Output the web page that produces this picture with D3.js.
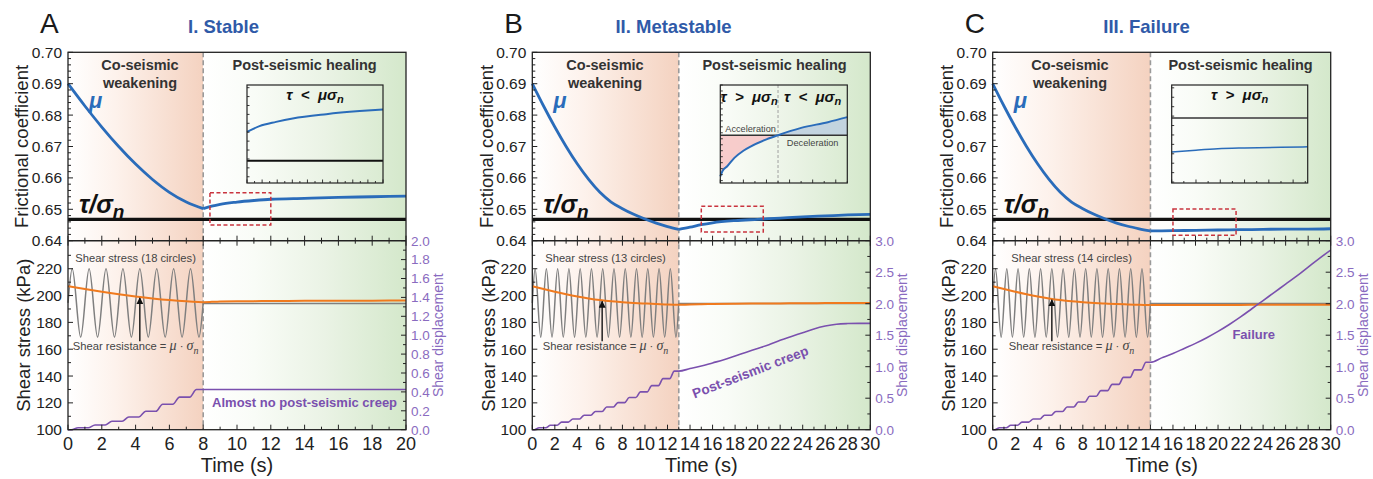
<!DOCTYPE html>
<html>
<head>
<meta charset="utf-8">
<script src="https://cdn.jsdelivr.net/npm/d3@7"></script>
<style>
  body { margin: 0; background: #fff; }
  svg { display: block; }
  text { font-family: "Liberation Sans", Arial, sans-serif; }
</style>
</head>
<body>
<svg id="chart" width="1373" height="479"></svg>
<script>
// ---------------- data ----------------
const panelLetters = ["A", "B", "C"];
const panelTitles = ["I. Stable", "II. Metastable", "III. Failure"];
const timeMax = [20, 30, 30];              // s
const coseismicEnd = [8, 13, 14];          // end of shaking (s)
const dispMax = [2, 3, 3];                 // right axis top
const dispStep = [0.2, 0.5, 0.5];
const sigmaN = 300;                        // normal stress, kPa
const tauStatic = 194.1;                   // post-seismic shear stress, kPa
const tauOverSigma = 0.6468;               // τ/σn
const stressLabels = ["Shear stress (18 circles)", "Shear stress (13 circles)", "Shear stress (14 circles)"];
const creepLabels = ["Almost no post-seismic creep", "Post-seismic creep", "Failure"];
const arrowTime = [4.25, 6.2, 5.25];       // s
const arrowBase = 166;                     // kPa

// friction coefficient during shaking
const muPreTimeA = [0, 1, 2, 3, 4, 5, 6, 7, 8];
const muPreA = [0.6900, 0.6829, 0.6762, 0.6700, 0.6644, 0.6595, 0.6554, 0.6523, 0.6502];
const muPreTimeB = [0, 1, 2, 3, 4, 5, 6, 7, 8, 9, 10, 11, 12, 13];
const muPreB = [0.6900, 0.6829, 0.6762, 0.6700, 0.6644, 0.6595, 0.6554, 0.6523, 0.6502, 0.6484, 0.6469, 0.6456, 0.6445, 0.6436];
const muPreTimeC = [0, 1, 2, 3, 4, 5, 6, 7, 8, 9, 10, 11, 12, 13, 14];
const muPreC = [0.6900, 0.6829, 0.6762, 0.6700, 0.6644, 0.6595, 0.6554, 0.6523, 0.6502, 0.6484, 0.6469, 0.6456, 0.6446, 0.6438, 0.6431];

// friction coefficient after shaking (healing)
const muPostTimeA = [8, 8.5, 9, 10, 11, 12, 14, 16, 18, 20];
const muPostA = [0.6502, 0.6510, 0.6516, 0.6523, 0.6528, 0.6532, 0.6535, 0.6538, 0.6540, 0.6542];
const muPostTimeB = [13, 14, 15, 16, 18, 20, 22, 24, 26, 28, 30];
const muPostB = [0.6436, 0.6443, 0.6451, 0.6457, 0.6464, 0.6468, 0.6472, 0.6476, 0.6479, 0.6482, 0.6484];
const muPostTimeC = [14, 16, 18, 20, 22, 24, 26, 28, 30];
const muPostC = [0.6431, 0.6432, 0.6433, 0.6434, 0.6435, 0.6436, 0.6437, 0.6437, 0.6438];

// cyclic shear stress: turning points (kPa)
const stressTimeA = [0, 0.25, 0.75, 1.25, 1.75, 2.25, 2.75, 3.25, 3.75, 4.25, 4.75, 5.25, 5.75, 6.25, 6.75, 7.25, 7.75, 8];
const stressA = [194.5, 220, 169, 220, 169, 220, 169, 220, 169, 220, 169, 220, 169, 220, 169, 220, 169, 194.5];
const stressTimeB = [0, 0.25, 0.75, 1.25, 1.75, 2.25, 2.75, 3.25, 3.75, 4.25, 4.75, 5.25, 5.75, 6.25, 6.75, 7.25, 7.75, 8.25, 8.75, 9.25, 9.75, 10.25, 10.75, 11.25, 11.75, 12.25, 12.75, 13];
const stressB = [194.5, 220, 169, 220, 169, 220, 169, 220, 169, 220, 169, 220, 169, 220, 169, 220, 169, 220, 169, 220, 169, 220, 169, 220, 169, 220, 169, 194.5];
const stressTimeC = [0, 0.25, 0.75, 1.25, 1.75, 2.25, 2.75, 3.25, 3.75, 4.25, 4.75, 5.25, 5.75, 6.25, 6.75, 7.25, 7.75, 8.25, 8.75, 9.25, 9.75, 10.25, 10.75, 11.25, 11.75, 12.25, 12.75, 13.25, 13.75, 14];
const stressC = [194.5, 220, 169, 220, 169, 220, 169, 220, 169, 220, 169, 220, 169, 220, 169, 220, 169, 220, 169, 220, 169, 220, 169, 220, 169, 220, 169, 220, 169, 194.5];

// shear displacement
const dispTimeA = [0, 0.2, 0.6, 1.2, 1.6, 2.2, 2.6, 3.2, 3.6, 4.2, 4.6, 5.2, 5.6, 6.2, 6.6, 7.2, 7.6, 8, 20];
const dispA = [0, 0, 0.02, 0.02, 0.05, 0.05, 0.09, 0.09, 0.135, 0.135, 0.195, 0.195, 0.27, 0.27, 0.345, 0.345, 0.425, 0.425, 0.425];
const dispTimeB = [0, 0.2, 0.6, 1.2, 1.6, 2.2, 2.6, 3.2, 3.6, 4.2, 4.6, 5.2, 5.6, 6.2, 6.6, 7.2, 7.6, 8.2, 8.6, 9.2, 9.6, 10.2, 10.6, 11.2, 11.6, 12.2, 12.6, 13,
                   14, 15, 16, 17, 18, 19, 20, 21, 22, 23, 24, 25, 26, 27, 28, 29, 30];
const dispB = [0, 0, 0.03, 0.03, 0.07, 0.07, 0.12, 0.12, 0.17, 0.17, 0.23, 0.23, 0.29, 0.29, 0.36, 0.36, 0.43, 0.43, 0.51, 0.51, 0.60, 0.60, 0.70, 0.70, 0.81, 0.81, 0.93, 0.93,
               0.97, 1.01, 1.06, 1.11, 1.17, 1.23, 1.29, 1.35, 1.42, 1.48, 1.54, 1.60, 1.645, 1.675, 1.685, 1.688, 1.688];
const dispTimeC = [0, 0.2, 0.6, 1.2, 1.6, 2.2, 2.6, 3.2, 3.6, 4.2, 4.6, 5.2, 5.6, 6.2, 6.6, 7.2, 7.6, 8.2, 8.6, 9.2, 9.6, 10.2, 10.6, 11.2, 11.6, 12.2, 12.6, 13.2, 13.6, 14,
                   15, 16, 17, 18, 19, 20, 21, 22, 23, 24, 25, 26, 27, 28, 29, 30];
const dispC = [0, 0, 0.03, 0.03, 0.07, 0.07, 0.12, 0.12, 0.17, 0.17, 0.23, 0.23, 0.29, 0.29, 0.36, 0.36, 0.44, 0.44, 0.53, 0.53, 0.62, 0.62, 0.72, 0.72, 0.83, 0.83, 0.95, 0.95, 1.07, 1.07,
               1.14, 1.21, 1.29, 1.37, 1.46, 1.56, 1.67, 1.79, 1.92, 2.05, 2.18, 2.31, 2.44, 2.58, 2.72, 2.85];

// zoom windows (red boxes) and the close-up insets
const zoomTime = [[8.4, 12], [15, 20.5], [16, 21.6]];
const zoomMu = [[0.6450, 0.6553], [0.6428, 0.6510], [0.6417, 0.6501]];
const insetMuDomain = [[0.6443, 0.6553], [0.6428, 0.6510], [0.6399, 0.6503]];
const insetTimeA = [8.4, 8.73, 9.17, 9.61, 10.5, 11.38, 12];
const insetMuA = [0.65004, 0.65068, 0.65116, 0.65155, 0.65203, 0.65237, 0.65256];
const insetTimeB = [15, 15.1, 15.3, 15.61, 16.0, 16.33, 17.0, 17.5, 18.5, 19.66, 20.5];
const insetMuB = [0.64336, 0.64383, 0.6442, 0.6449, 0.6455, 0.64587, 0.64645, 0.6468, 0.64741, 0.64789, 0.64831];
const insetTimeC = [16, 17, 17.9, 19, 20.5, 21.6];
const insetMuC = [0.64318, 0.64338, 0.64353, 0.64362, 0.64370, 0.64374];
const insetCrossTimeB = 17.5;

// ---------------- layout ----------------
const svg = d3.select("#chart");
const defs = svg.append("defs");
const plotLeft = [68, 532.3, 992.7];
const W = 338, TOP = 52.3, MID = 240.7, BOT = 429.7;
const insetWidth = [136, 127, 136];
const INSET_TOP = 85, INSET_H = 98;
const coLabelX = [140, 605, 1070];

const BLUE = "#2A6CBA", ORANGE = "#F07A1E", GREY = "#7F7F7F", PURPLE = "#7A50AE", PURPLE_TXT = "#8A6BC0", INK = "#222";
const MATH = "'Liberation Serif', 'DejaVu Serif', serif";

defs.append("marker").attr("id", "arrowHead").attr("viewBox", "0 0 10 10")
  .attr("refX", 9).attr("refY", 5).attr("markerWidth", 7).attr("markerHeight", 7)
  .attr("markerUnits", "userSpaceOnUse").attr("orient", "auto")
  .append("path").attr("d", "M0,0 L10,5 L0,10 z").attr("fill", "#111");

function gradient(id, x1, x2, stops) {
  const g = defs.append("linearGradient").attr("id", id)
    .attr("gradientUnits", "userSpaceOnUse").attr("x1", x1).attr("x2", x2).attr("y1", 0).attr("y2", 0);
  stops.forEach(([o, c]) => g.append("stop").attr("offset", o).attr("stop-color", c));
}

function rich(sel, parts) {
  parts.forEach(p => {
    const ts = sel.append("tspan").text(p.t);
    if (p.font) ts.attr("font-family", p.font);
    if (p.italic) ts.attr("font-style", "italic");
    if (p.bold) ts.attr("font-weight", "bold");
    if (p.size) ts.attr("font-size", p.size);
    if (p.dy) ts.attr("dy", p.dy);
  });
  return sel;
}

const muPreTime = [muPreTimeA, muPreTimeB, muPreTimeC], muPre = [muPreA, muPreB, muPreC];
const muPostTime = [muPostTimeA, muPostTimeB, muPostTimeC], muPost = [muPostA, muPostB, muPostC];
const stressTime = [stressTimeA, stressTimeB, stressTimeC], stress = [stressA, stressB, stressC];
const dispTime = [dispTimeA, dispTimeB, dispTimeC], disp = [dispA, dispB, dispC];
const insetTime = [insetTimeA, insetTimeB, insetTimeC], insetMu = [insetMuA, insetMuB, insetMuC];
const insetTitles = [
  [[{t: "τ  <  μσ"}, {t: "n", size: 11, dy: "0.3em"}]],
  [[{t: "τ  >  μσ"}, {t: "n", size: 11, dy: "0.3em"}], [{t: "τ  <  μσ"}, {t: "n", size: 11, dy: "0.3em"}]],
  [[{t: "τ  >  μσ"}, {t: "n", size: 11, dy: "0.3em"}]]
];

const zip = (a, b) => a.map((v, i) => [v, b[i]]);

panelLetters.forEach((letter, p) => {
  const x0 = plotLeft[p], x1 = x0 + W;
  const x = d3.scaleLinear([0, timeMax[p]], [x0, x1]);
  const yMu = d3.scaleLinear([0.64, 0.70], [MID, TOP]);
  const yS = d3.scaleLinear([100, 240], [BOT, 241.9]);
  const yD = d3.scaleLinear([0, dispMax[p]], [BOT, MID]);
  const xq = x(coseismicEnd[p]);
  const g = svg.append("g");

  // stage backgrounds
  gradient("co" + p, x0, xq, [[0, "#FFFFFF"], [0.35, "#FDF2EC"], [1, "#F4D2C0"]]);
  gradient("post" + p, xq, x1, [[0, "#FFFFFF"], [0.25, "#F9FCF7"], [0.6, "#EAF3E5"], [1, "#D4E8CB"]]);
  g.append("rect").attr("x", x0).attr("y", TOP).attr("width", xq - x0).attr("height", BOT - TOP).attr("fill", `url(#co${p})`);
  g.append("rect").attr("x", xq).attr("y", TOP).attr("width", x1 - xq).attr("height", BOT - TOP).attr("fill", `url(#post${p})`);

  // stage boundary
  g.append("line").attr("x1", xq).attr("x2", xq).attr("y1", TOP).attr("y2", BOT)
    .attr("stroke", "#9A9A9A").attr("stroke-width", 1.6).attr("stroke-dasharray", "5,3");

  // ---- top panel: friction ----
  g.append("line").attr("x1", x0).attr("x2", x1).attr("y1", yMu(tauOverSigma)).attr("y2", yMu(tauOverSigma))
    .attr("stroke", "#111").attr("stroke-width", 3.2);
  const muLine = d3.line().x(d => x(d[0])).y(d => yMu(d[1])).curve(d3.curveMonotoneX);
  g.append("path").attr("d", muLine(zip(muPreTime[p], muPre[p]))).attr("fill", "none").attr("stroke", BLUE).attr("stroke-width", 2.8);
  g.append("path").attr("d", muLine(zip(muPostTime[p], muPost[p]))).attr("fill", "none").attr("stroke", BLUE).attr("stroke-width", 2.8);

  // red zoom window
  g.append("rect").attr("x", x(zoomTime[p][0])).attr("y", yMu(zoomMu[p][1]))
    .attr("width", x(zoomTime[p][1]) - x(zoomTime[p][0])).attr("height", yMu(zoomMu[p][0]) - yMu(zoomMu[p][1]))
    .attr("fill", "none").attr("stroke", "#C9343F").attr("stroke-width", 1.5).attr("stroke-dasharray", "4,2.5");

  // ---- bottom panel: stresses and displacement ----
  const sLine = d3.line().x(d => x(d[0])).y(d => yS(d[1])).curve(d3.curveMonotoneX);
  g.append("path").attr("d", sLine(zip(stressTime[p], stress[p]))).attr("fill", "none").attr("stroke", GREY).attr("stroke-width", 1.5);
  g.append("line").attr("x1", xq).attr("x2", x1).attr("y1", yS(tauStatic)).attr("y2", yS(tauStatic))
    .attr("stroke", GREY).attr("stroke-width", 1.6);
  const resPre = muPre[p].map(m => m * sigmaN), resPost = muPost[p].map(m => m * sigmaN);
  g.append("path").attr("d", sLine(zip(muPreTime[p], resPre))).attr("fill", "none").attr("stroke", ORANGE).attr("stroke-width", 2);
  g.append("path").attr("d", sLine(zip(muPostTime[p], resPost))).attr("fill", "none").attr("stroke", ORANGE).attr("stroke-width", 2);

  const dLine = d3.line().x(d => x(d[0])).y(d => yD(d[1])).curve(d3.curveMonotoneX);
  g.append("path").attr("d", dLine(zip(dispTime[p], disp[p]))).attr("fill", "none").attr("stroke", PURPLE).attr("stroke-width", 1.6);

  // arrow to shear resistance
  const resAt = d3.scaleLinear(muPreTime[p], resPre);
  const ta = arrowTime[p];
  g.append("line").attr("x1", x(ta)).attr("x2", x(ta)).attr("y1", yS(arrowBase)).attr("y2", yS(resAt(ta)) + 1)
    .attr("stroke", "#111").attr("stroke-width", 1.4).attr("marker-end", "url(#arrowHead)");

  // ---- frame ----
  g.append("rect").attr("x", x0).attr("y", TOP).attr("width", W).attr("height", BOT - TOP)
    .attr("fill", "none").attr("stroke", INK).attr("stroke-width", 1.3);
  g.append("line").attr("x1", x0).attr("x2", x1).attr("y1", MID).attr("y2", MID).attr("stroke", INK).attr("stroke-width", 1.5);

  // x ticks (inward) on panel boundary and bottom
  d3.range(0, timeMax[p] + 0.001, 1).forEach(t => {
    const major = t % 2 === 0;
    const L = major ? 5 : 3;
    g.append("line").attr("x1", x(t)).attr("x2", x(t)).attr("y1", BOT).attr("y2", BOT - L).attr("stroke", INK).attr("stroke-width", 1);
    g.append("line").attr("x1", x(t)).attr("x2", x(t)).attr("y1", MID - L).attr("y2", MID + L).attr("stroke", INK).attr("stroke-width", 1);
    if (major) {
      g.append("text").attr("x", x(t)).attr("y", BOT + 20).attr("text-anchor", "middle")
        .attr("font-size", 18).attr("fill", INK).text(t);
    }
  });

  // left axis: friction
  d3.range(0.64, 0.7001, 0.002).forEach((v, i) => {
    const major = i % 5 === 0;
    g.append("line").attr("x1", x0).attr("x2", x0 + (major ? 5 : 3)).attr("y1", yMu(v)).attr("y2", yMu(v)).attr("stroke", INK).attr("stroke-width", 1);
    if (major) g.append("text").attr("x", x0 - 6).attr("y", yMu(v)).attr("dy", "0.36em").attr("text-anchor", "end")
      .attr("font-size", 15.5).attr("fill", INK).text(v.toFixed(2));
  });
  // left axis: shear stress
  d3.range(100, 231, 10).forEach(v => {
    const major = v % 20 === 0;
    g.append("line").attr("x1", x0).attr("x2", x0 + (major ? 5 : 3)).attr("y1", yS(v)).attr("y2", yS(v)).attr("stroke", INK).attr("stroke-width", 1);
    if (major) g.append("text").attr("x", x0 - 6).attr("y", yS(v)).attr("dy", "0.36em").attr("text-anchor", "end")
      .attr("font-size", 15.5).attr("fill", INK).text(v);
  });
  // right axis: displacement
  const nD = Math.round(dispMax[p] / (dispStep[p] / 2));
  d3.range(0, nD + 1).forEach(i => {
    const v = i * dispStep[p] / 2;
    const major = i % 2 === 0;
    g.append("line").attr("x1", x1).attr("x2", x1 - (major ? 5 : 3)).attr("y1", yD(v)).attr("y2", yD(v)).attr("stroke", INK).attr("stroke-width", 1);
    if (major) g.append("text").attr("x", x1 + 5).attr("y", yD(v)).attr("dy", "0.36em")
      .attr("font-size", 13.5).attr("fill", PURPLE_TXT).text(v.toFixed(1));
  });

  // axis titles
  g.append("text").attr("transform", `translate(${x0 - 46},${(TOP + MID) / 2}) rotate(-90)`).attr("text-anchor", "middle")
    .attr("dy", "0.35em").attr("font-size", 18.5).attr("fill", INK).text("Frictional coefficient");
  g.append("text").attr("transform", `translate(${x0 - 44},${(MID + BOT) / 2}) rotate(-90)`).attr("text-anchor", "middle")
    .attr("dy", "0.35em").attr("font-size", 18.5).attr("fill", INK).text("Shear stress (kPa)");
  g.append("text").attr("transform", `translate(${x1 + 32},${(MID + BOT) / 2}) rotate(-90)`).attr("text-anchor", "middle")
    .attr("dy", "0.35em").attr("font-size", 14).attr("fill", PURPLE_TXT).text("Shear displacement");
  g.append("text").attr("x", (x0 + x1) / 2).attr("y", 472).attr("text-anchor", "middle")
    .attr("font-size", 20).attr("fill", INK).text("Time (s)");

  // panel letter and title
  g.append("text").attr("x", x0 - 28).attr("y", 33).attr("font-size", 28).attr("fill", "#1a1a1a").text(letter);
  g.append("text").attr("x", [223.5, 673.5, 1146.5][p]).attr("y", 33).attr("text-anchor", "middle")
    .attr("font-size", 18.5).attr("font-weight", "bold").attr("fill", "#2F5AA8").text(panelTitles[p]);

  // stage labels
  const coMid = (x0 + xq) / 2, postMid = (xq + x1) / 2;
  g.append("text").attr("x", coLabelX[p]).attr("y", 70).attr("text-anchor", "middle").attr("font-size", 14.5)
    .attr("font-weight", "bold").attr("fill", "#333").text("Co-seismic");
  g.append("text").attr("x", coLabelX[p]).attr("y", 88).attr("text-anchor", "middle").attr("font-size", 14.5)
    .attr("font-weight", "bold").attr("fill", "#333").text("weakening");
  g.append("text").attr("x", postMid).attr("y", 70).attr("text-anchor", "middle").attr("font-size", 14.5)
    .attr("font-weight", "bold").attr("fill", "#333").text("Post-seismic healing");

  // curve labels
  g.append("text").attr("x", x0 + 21).attr("y", 108).attr("font-family", MATH).attr("font-style", "italic")
    .attr("font-weight", "bold").attr("font-size", 22).attr("fill", BLUE).text("μ");
  rich(g.append("text").attr("x", x0 + 11).attr("y", 213).attr("font-family", MATH).attr("font-style", "italic")
    .attr("font-weight", "bold").attr("font-size", 25).attr("fill", "#111"),
    [{t: "τ/σ"}, {t: "n", size: 19, dy: "0.25em"}]);

  g.append("text").attr("x", coMid).attr("y", 262).attr("text-anchor", "middle").attr("font-size", 11.2)
    .attr("fill", "#444").text(stressLabels[p]);
  rich(g.append("text").attr("x", coMid).attr("y", 350).attr("text-anchor", "middle").attr("font-size", 11.2).attr("fill", "#444"),
    [{t: "Shear resistance = "}, {t: "μ", font: MATH, italic: true, size: 14}, {t: " · "},
     {t: "σ", font: MATH, italic: true, size: 14}, {t: "n", font: MATH, italic: true, size: 10, dy: "0.35em"}]);

  // creep annotation
  const cl = g.append("text").attr("font-size", 13.5).attr("font-weight", "bold").attr("fill", PURPLE)
    .attr("text-anchor", "middle").text(creepLabels[p]);
  if (p === 0) cl.attr("x", postMid).attr("y", 407).attr("font-size", 13);
  if (p === 1) cl.attr("transform", `translate(${x0 + 218},${372}) rotate(-21)`).attr("dy", "0.35em");
  if (p === 2) cl.attr("x", x0 + 261).attr("y", 339).attr("font-size", 13);

  // ---- inset close-up ----
  const iw = insetWidth[p];
  const ix1 = x1 - 23, ix0 = ix1 - iw, iy0 = INSET_TOP, iy1 = INSET_TOP + INSET_H;
  const xi = d3.scaleLinear(zoomTime[p], [ix0, ix1]);
  const yi = d3.scaleLinear(insetMuDomain[p], [iy1, iy0]);
  const ig = g.append("g");
  const ipts = zip(insetTime[p], insetMu[p]);
  if (p === 1) {
    const tc = insetCrossTimeB;
    const area = d3.area().x(d => xi(d[0])).y0(yi(tauOverSigma)).y1(d => yi(d[1])).curve(d3.curveMonotoneX);
    ig.append("path").attr("d", area(ipts.filter(d => d[0] <= tc))).attr("fill", "#F6C6C6").attr("opacity", 0.9);
    ig.append("path").attr("d", area(ipts.filter(d => d[0] >= tc))).attr("fill", "#BFD0E0").attr("opacity", 0.9);
    ig.append("line").attr("x1", xi(tc)).attr("x2", xi(tc)).attr("y1", iy0).attr("y2", iy1)
      .attr("stroke", "#A0A0A0").attr("stroke-width", 1).attr("stroke-dasharray", "3,2");
  }
  ig.append("line").attr("x1", ix0).attr("x2", ix1).attr("y1", yi(tauOverSigma)).attr("y2", yi(tauOverSigma))
    .attr("stroke", p === 2 ? "#666" : (p === 1 ? "#333" : "#111")).attr("stroke-width", p === 1 ? 1.6 : 2);
  ig.append("path").attr("d", d3.line().x(d => xi(d[0])).y(d => yi(d[1])).curve(d3.curveMonotoneX)(ipts))
    .attr("fill", "none").attr("stroke", BLUE).attr("stroke-width", p === 2 ? 1.5 : 2);
  ig.append("rect").attr("x", ix0).attr("y", iy0).attr("width", iw).attr("height", INSET_H)
    .attr("fill", "none").attr("stroke", INK).attr("stroke-width", 1.2);
  xi.ticks(12).forEach((t, i) => {
    ig.append("line").attr("x1", xi(t)).attr("x2", xi(t)).attr("y1", iy1).attr("y2", iy1 - (i % 2 ? 2 : 3.5))
      .attr("stroke", INK).attr("stroke-width", 0.9);
  });
  yi.ticks(12).forEach(v => {
    ig.append("line").attr("x1", ix0).attr("x2", ix0 + 2.5).attr("y1", yi(v)).attr("y2", yi(v))
      .attr("stroke", INK).attr("stroke-width", 0.9);
  });
  if (p === 1) {
    const tc = xi(insetCrossTimeB);
    [[(ix0 + tc) / 2, insetTitles[1][0]], [(tc + ix1) / 2, insetTitles[1][1]]].forEach(([cx, parts]) => {
      rich(ig.append("text").attr("x", cx).attr("y", 102).attr("text-anchor", "middle").attr("font-family", MATH)
        .attr("font-style", "italic").attr("font-weight", "bold").attr("font-size", 15).attr("fill", "#111")
        .style("white-space", "pre"), parts);
    });
    ig.append("text").attr("x", ix0 + 5).attr("y", yi(tauOverSigma) - 3).attr("font-size", 9.2).attr("fill", "#444").text("Acceleration");
    ig.append("text").attr("x", (tc + ix1) / 2).attr("y", yi(tauOverSigma) + 11).attr("text-anchor", "middle")
      .attr("font-size", 9.2).attr("fill", "#444").text("Deceleration");
  } else {
    rich(ig.append("text").attr("x", (ix0 + ix1) / 2).attr("y", 100).attr("text-anchor", "middle").attr("font-family", MATH)
      .attr("font-style", "italic").attr("font-weight", "bold").attr("font-size", 15).attr("fill", "#111")
      .style("white-space", "pre"), insetTitles[p][0]);
  }
});
</script>
</body>
</html>
